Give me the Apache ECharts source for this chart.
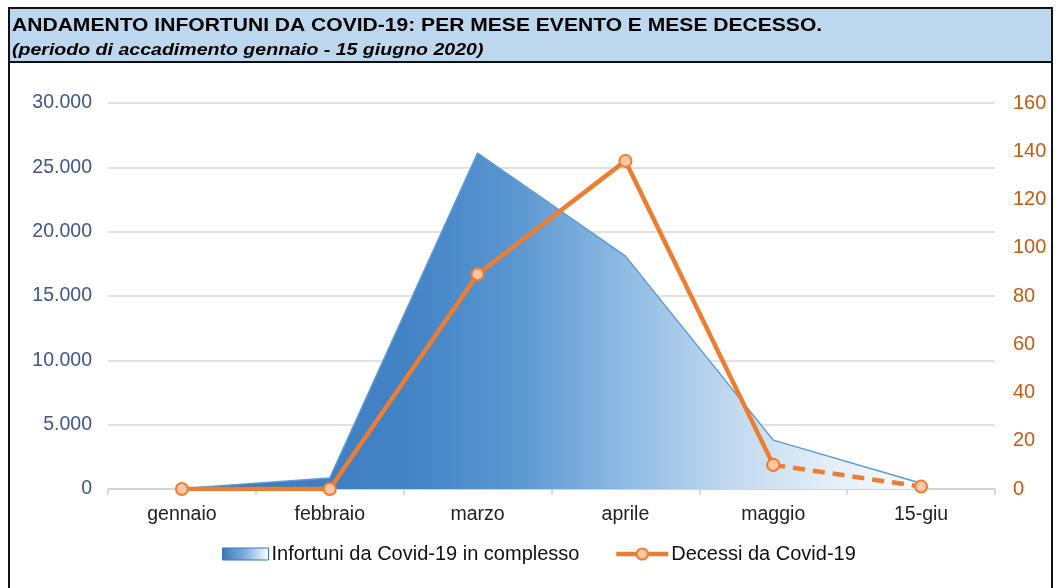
<!DOCTYPE html>
<html>
<head>
<meta charset="utf-8">
<script src="https://cdn.jsdelivr.net/npm/echarts@6/dist/echarts.min.js"></script>
<style>
html,body{margin:0;padding:0;background:#fff;}
#chart{width:1058px;height:588px;}
</style>
</head>
<body>
<div id="chart"></div>
<script>
var titleText = 'ANDAMENTO INFORTUNI DA COVID-19: PER MESE EVENTO E MESE DECESSO.';
var subtitleText = '(periodo di accadimento gennaio - 15 giugno 2020)';
var categories = ['gennaio', 'febbraio', 'marzo', 'aprile', 'maggio', '15-giu'];
var infortuni = [30, 850, 26100, 18100, 3800, 450];
var decessi = [0, 0, 89, 136, 10, 1];
var leftTicks = [0, 5000, 10000, 15000, 20000, 25000, 30000];
var rightTicks = [0, 20, 40, 60, 80, 100, 120, 140, 160];
var nameInf = 'Infortuni da Covid-19 in complesso';
var nameDec = 'Decessi da Covid-19';

var decSolid = decessi.map(function (v, i) { return i <= 4 ? v : null; });
var decDashed = decessi.map(function (v, i) { return i >= 4 ? v : null; });

var FONT = 'Liberation Sans, Arial, sans-serif';

var areaGrad = new echarts.graphic.LinearGradient(0, 0, 1, 0, [
  { offset: 0, color: '#3b77ba' },
  { offset: 0.3, color: '#4283c6' },
  { offset: 0.45, color: '#5a96d0' },
  { offset: 0.6, color: '#8fbbe4' },
  { offset: 0.75, color: '#c3daef' },
  { offset: 0.88, color: '#e4eff9' },
  { offset: 1, color: '#f7fafd' }
]);
var legendGrad = new echarts.graphic.LinearGradient(0, 0, 1, 0, [
  { offset: 0, color: '#3b77ba' },
  { offset: 0.5, color: '#7fb0e0' },
  { offset: 1, color: '#ffffff' }
]);

var chart = echarts.init(document.getElementById('chart'));
var fmt = function (v) { return String(v).replace(/\B(?=(\d{3})+(?!\d))/g, '.'); };

chart.setOption({
  animation: false,
  textStyle: { fontFamily: FONT },
  graphic: [
    { type: 'rect', z: 0, shape: { x: 9, y: 8, width: 1043, height: 54 }, style: { fill: '#BDD7EE', stroke: '#111', lineWidth: 2 } },
    { type: 'line', z: 0, shape: { x1: 9, y1: 62, x2: 9, y2: 600 }, style: { stroke: '#111', lineWidth: 2 } },
    { type: 'line', z: 0, shape: { x1: 1052, y1: 62, x2: 1052, y2: 600 }, style: { stroke: '#111', lineWidth: 2 } },
    { type: 'text', z: 5, x: 12, y: 17, scaleX: 1.17, style: { text: titleText, font: 'bold 18px ' + FONT, fill: '#000', textVerticalAlign: 'top' } },
    { type: 'text', z: 5, x: 12, y: 42, scaleX: 1.15, style: { text: subtitleText, font: 'italic bold 17px ' + FONT, fill: '#000', textVerticalAlign: 'top' } }
  ],
  legend: [
    {
      data: [{ name: nameInf, icon: 'rect', itemStyle: { color: legendGrad, borderColor: '#3b77ba', borderWidth: 1 } }],
      left: 217, top: 539, itemWidth: 46, itemHeight: 12, itemGap: 5,
      textStyle: { fontSize: 20, color: '#111', padding: [0, 0, 0, -2] }
    },
    {
      data: [{ name: nameDec }],
      left: 609, top: 539, itemWidth: 52, itemHeight: 14, itemGap: 5,
      lineStyle: { width: 4.5 },
      textStyle: { fontSize: 20, color: '#111', padding: [0, 0, 0, -2] }
    }
  ],
  grid: { left: 108, right: 63, top: 103, bottom: 99, containLabel: false },
  xAxis: {
    type: 'category', data: categories, boundaryGap: true,
    axisLine: { lineStyle: { color: '#d0d0d0', width: 1.5 } },
    axisTick: { show: true, length: 6, lineStyle: { color: '#d0d0d0', width: 1.5 } },
    axisLabel: { fontSize: 19.5, color: '#222', margin: 16 }
  },
  yAxis: [
    {
      type: 'value', min: leftTicks[0], max: leftTicks[leftTicks.length - 1], interval: leftTicks[1] - leftTicks[0],
      axisLine: { show: false }, axisTick: { show: false },
      splitLine: { lineStyle: { color: '#d9d9d9', width: 1.5 } },
      axisLabel: { fontSize: 19.5, color: '#3e5688', margin: 16, formatter: fmt }
    },
    {
      type: 'value', min: rightTicks[0], max: rightTicks[rightTicks.length - 1], interval: rightTicks[1] - rightTicks[0],
      position: 'right',
      axisLine: { show: false }, axisTick: { show: false }, splitLine: { show: false },
      axisLabel: { fontSize: 20, color: '#C55A11', margin: 18 }
    }
  ],
  series: [
    {
      name: nameInf, type: 'line', data: infortuni, yAxisIndex: 0,
      symbol: 'none', z: 1,
      lineStyle: { color: '#5b9bd5', width: 1.5 },
      itemStyle: { color: '#3b77ba' },
      areaStyle: { color: areaGrad, opacity: 1 }
    },
    {
      name: nameDec, type: 'line', data: decSolid, yAxisIndex: 1, z: 3,
      symbol: 'circle', symbolSize: 12, connectNulls: false,
      lineStyle: { color: '#ED7D31', width: 4.5 },
      itemStyle: { color: '#F9C6A6', borderColor: '#ED7D31', borderWidth: 2 }
    },
    {
      name: nameDec, type: 'line', data: decDashed, yAxisIndex: 1, z: 3,
      symbol: 'circle', symbolSize: 12,
      lineStyle: { color: '#ED7D31', width: 4.5, type: [12, 8] },
      itemStyle: { color: '#F9C6A6', borderColor: '#ED7D31', borderWidth: 2 }
    }
  ]
});
</script>
</body>
</html>
